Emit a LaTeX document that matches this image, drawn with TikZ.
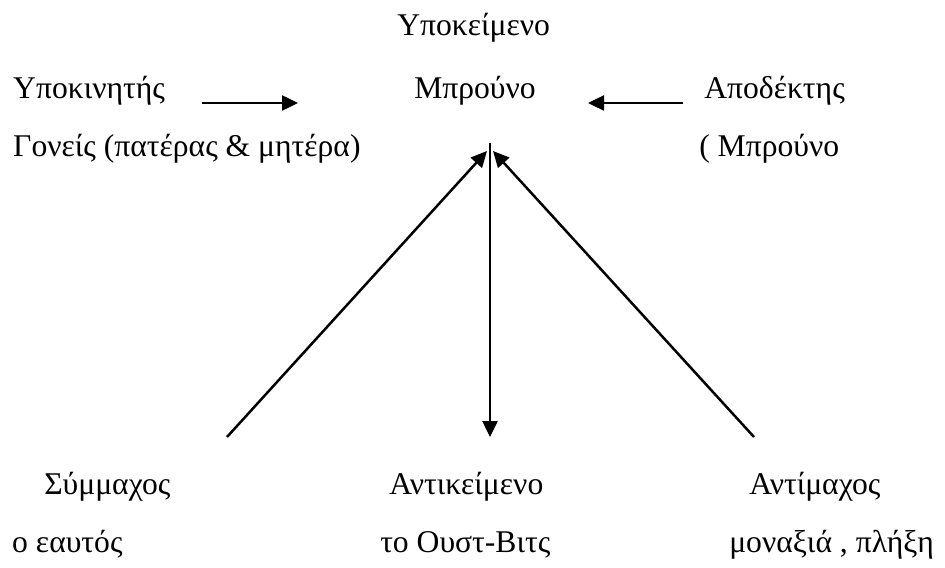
\documentclass[tikz,border=0pt]{standalone}
\usepackage{fontspec}
\setmainfont{Liberation Serif}
\usetikzlibrary{arrows.meta}

\begin{document}
\begin{tikzpicture}[x=0.02cm, y=-0.02cm, >={Triangle[length=0.32cm,width=0.3cm]}, line width=0.05cm]
        \tikzset{lbl/.style={anchor=base west, inner sep=0pt, font=\fontsize{18}{22}\selectfont}}
        \useasboundingbox (0,0) rectangle (945,567);
        % actantial scheme: upper rows
        \node[lbl] (subject) at (396,36) {Υποκείμενο};
        \node[lbl] (sender) at (12,99) {Υποκινητής};
        \node[lbl] (hero) at (413,99) {Μπρούνο};
        \node[lbl] (receiver) at (703,99) {Αποδέκτης};
        \node[lbl] (parents) at (12,157) {Γονείς (πατέρας \& μητέρα)};
        \node[lbl] (self) at (698,157) {( Μπρούνο};
        % lower rows
        \node[lbl] (helper) at (43,494) {Σύμμαχος};
        \node[lbl] (object) at (388,494) {Αντικείμενο};
        \node[lbl] (opponent) at (748,494) {Αντίμαχος};
        \node[lbl] (helperval) at (11,552) {ο εαυτός};
        \node[lbl] (objectval) at (379,552) {το Ουστ-Βιτς};
        \node[lbl] (opponentval) at (728,552) {μοναξιά , πλήξη};
        % arrow ends
        \coordinate (sendtail) at (202,103);
        \coordinate (sendhead) at (298,103);
        \coordinate (recvtail) at (683,103);
        \coordinate (recvhead) at (588,103);
        \coordinate (top) at (490,143);
        \coordinate (apexL) at (487,151);
        \coordinate (apexR) at (493,151);
        \coordinate (bottom) at (490,437);
        \coordinate (helptail) at (227,437);
        \coordinate (opptail) at (754,437);
        \draw[->] (sendtail) -- (sendhead);
        \draw[->] (recvtail) -- (recvhead);
        \draw[->] (top) -- (bottom);
        \draw[->] (helptail) -- (apexL);
        \draw[->] (opptail) -- (apexR);
\end{tikzpicture}
\end{document}
